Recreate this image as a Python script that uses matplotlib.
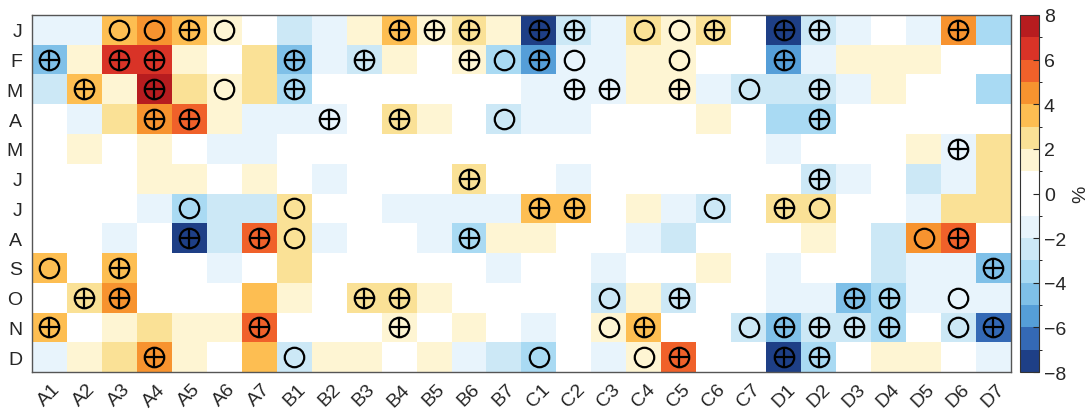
import matplotlib
matplotlib.use("Agg")
import matplotlib.pyplot as plt
import numpy as np
from matplotlib.colors import ListedColormap, BoundaryNorm

plt.rcParams['font.family'] = ['Liberation Sans', 'DejaVu Sans']

months = ["J", "F", "M", "A", "M", "J", "J", "A", "S", "O", "N", "D"]
sites = [g + str(i) for g in "ABCD" for i in range(1, 8)]

# anomaly (%) per month (rows) and site (columns)
values = [
    [-1.5, -1.5, 3.5, 4.5, 3.5, 1.5, 0, -2.5, -1.5, 1.5, 3.5, 1.5, 2.5, 1.5, -7.5, -2.5, -1.5, 2.5, 1.5, 2.5, 0, -7.5, -2.5, -1.5, 0, -1.5, 4.5, -3.5],
    [-4.5, 1.5, 6.5, 6.5, 1.5, 0, 2.5, -4.5, -1.5, -2.5, 1.5, 0, 1.5, -3.5, -5.5, -1.5, -1.5, 1.5, 1.5, 0, 0, -5.5, -1.5, 1.5, 1.5, 1.5, 0, 0],
    [-2.5, 3.5, 1.5, 7.5, 2.5, 1.5, 2.5, -3.5, 0, 0, 0, 0, 0, 0, -1.5, -1.5, -1.5, 1.5, 1.5, -1.5, -2.5, -2.5, -2.5, -1.5, 1.5, 0, 0, -3.5],
    [0, -1.5, 2.5, 4.5, 5.5, 1.5, -1.5, -1.5, -1.5, 0, 2.5, 1.5, 0, -2.5, -1.5, -1.5, 0, 0, 0, 1.5, 0, -3.5, -3.5, 0, 0, 0, 0, 0],
    [0, 1.5, 0, 1.5, 0, -1.5, -1.5, 0, 0, 0, 0, 0, 0, 0, 0, 0, 0, 0, 0, 0, 0, -1.5, 0, 0, 0, 1.5, -1.5, 2.5],
    [0, 0, 0, 1.5, 1.5, 0, 1.5, 0, -1.5, 0, 0, 0, 2.5, 0, 0, -1.5, 0, 0, 0, 0, 0, 0, -2.5, -1.5, 0, -2.5, -1.5, 2.5],
    [0, 0, 0, -1.5, -3.5, -2.5, -2.5, 2.5, 0, 0, -1.5, -1.5, -1.5, -1.5, 3.5, 3.5, 0, 1.5, -1.5, -2.5, 0, 2.5, 2.5, 0, 0, -1.5, 2.5, 2.5],
    [0, 0, -1.5, 0, -7.5, -2.5, 5.5, 2.5, -1.5, 0, 0, -1.5, -3.5, 1.5, 1.5, 0, 0, -1.5, -2.5, 0, 0, 0, 1.5, 0, -2.5, 4.5, 5.5, 0],
    [3.5, 0, 3.5, 0, 0, -1.5, 0, 2.5, 0, 0, 0, 0, 0, -1.5, 0, 0, -1.5, 0, 0, 1.5, 0, -1.5, 0, 0, -2.5, -1.5, -1.5, -4.5],
    [0, 2.5, 4.5, 0, 0, 0, 3.5, 1.5, 0, 2.5, 2.5, 1.5, 0, 0, 0, 0, -2.5, 1.5, -2.5, 0, 0, -1.5, -1.5, -4.5, -3.5, -1.5, -1.5, -1.5],
    [3.5, 0, 1.5, 2.5, 1.5, 1.5, 5.5, 0, 0, 0, 1.5, 0, 1.5, 0, -1.5, 0, 1.5, 3.5, 0, 0, -2.5, -4.5, -2.5, -2.5, -3.5, 0, -2.5, -6.5],
    [-1.5, 1.5, 2.5, 4.5, 1.5, 0, 3.5, -2.5, 1.5, 1.5, 0, 1.5, -1.5, -2.5, -3.5, 0, -1.5, 1.5, 5.5, 0, 0, -7.5, -3.5, 0, 1.5, 1.5, 0, -1.5],
]

# open circles, per month
circles = [
    ["A3", "A4", "A6", "C4", "C5"],
    ["B7", "C2", "C5"],
    ["A6", "C7"],
    ["B7"],
    [],
    [],
    ["A5", "B1", "C6", "D2"],
    ["B1", "D5"],
    ["A1"],
    ["C3", "D6"],
    ["C3", "C7", "D6"],
    ["B1", "C1", "C4"],
]

# circles with cross, per month
crossed = [
    ["A5", "B4", "B5", "B6", "C1", "C2", "C6", "D1", "D2", "D6"],
    ["A1", "A3", "A4", "B1", "B3", "B6", "C1", "D1"],
    ["A2", "A4", "B1", "C2", "C3", "C5", "D2"],
    ["A4", "A5", "B2", "B4", "D2"],
    ["D6"],
    ["B6", "D2"],
    ["C1", "C2", "D1"],
    ["A5", "A7", "B6", "D6"],
    ["A3", "D7"],
    ["A2", "A3", "B3", "B4", "C5", "D3", "D4"],
    ["A1", "A7", "B4", "C4", "D1", "D2", "D3", "D4", "D7"],
    ["A4", "C5", "D1", "D2"],
]

colors = ['#1E3F86', '#3469B5', '#559ED8', '#7FC0E8', '#A9DAF3', '#CCE8F6', '#E8F4FC', '#FFFFFF',
          '#FFFFFF', '#FEF5D3', '#FAE196', '#FDBE52', '#F7932F', '#F0612A', '#D93327', '#B71C1F']
cmap = ListedColormap(colors)
norm = BoundaryNorm(np.arange(-8, 9, 1), cmap.N)

fig = plt.figure(figsize=(10.87, 4.10), dpi=100)
ax = fig.add_axes([0.0294, 0.0902, 0.9006, 0.8708])
cax = fig.add_axes([0.9384, 0.0902, 0.0175, 0.8708])

data = np.array(values)
mesh = ax.pcolormesh(np.arange(data.shape[1] + 1), np.arange(data.shape[0] + 1), data,
                     cmap=cmap, norm=norm, edgecolors='none')

for r in range(len(months)):
    for s in circles[r] + crossed[r]:
        c = sites.index(s)
        ax.plot(c + 0.5, r + 0.5, 'o', ms=14, mfc='none', mec='black', mew=1.6)
    for s in crossed[r]:
        c = sites.index(s)
        ax.plot(c + 0.5, r + 0.5, '+', ms=14, mec='black', mew=1.6)

ax.set_xlim(0, 28)
ax.set_ylim(12, 0)
ax.set_xticks(np.arange(28) + 0.5)
ax.set_xticklabels(sites, rotation=45, fontsize=14)
ax.set_yticks(np.arange(12) + 0.5)
ax.set_yticklabels(months, fontsize=14)
ax.tick_params(length=0, pad=7, colors='#262626')
ax.tick_params(axis='x', pad=6)
for sp in ax.spines.values():
    sp.set_color('#555555')
    sp.set_linewidth(1)

cb = fig.colorbar(mesh, cax=cax, ticks=np.arange(-8, 9, 2))
cb.ax.tick_params(direction='in', length=4, labelsize=14, colors='#262626')
cb.outline.set_edgecolor('#333333')
cb.set_label('%', fontsize=14, color='#262626')

fig.savefig("out.png", dpi=100)
